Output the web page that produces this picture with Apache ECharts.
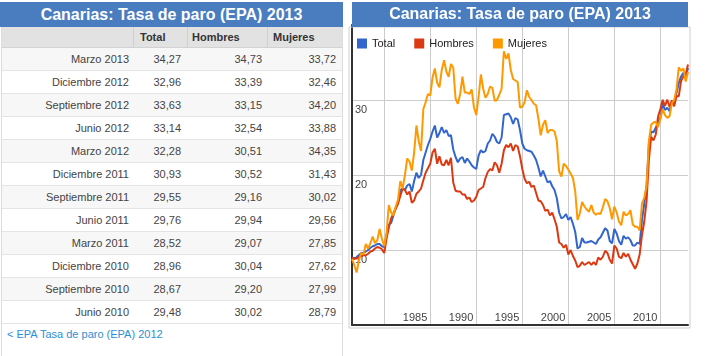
<!DOCTYPE html>
<html>
<head>
<meta charset="utf-8">
<script src="https://cdn.jsdelivr.net/npm/echarts@6.0.0/dist/echarts.min.js"></script>
<style>
html,body{margin:0;padding:0;background:#fff;}
body{width:709px;height:356px;overflow:hidden;position:relative;font-family:"Liberation Sans",Arial,Helvetica,sans-serif;}
#left{position:absolute;left:0;top:0;width:344px;height:356px;}
.ttl{position:absolute;left:0;top:2px;width:343px;height:25px;line-height:25px;background:#4a7dbf;color:#fff;font-weight:bold;font-size:16px;text-align:center;white-space:nowrap;}
.vb{position:absolute;top:27px;width:1px;height:329px;background:#dcdcdc;}
.hdr{position:absolute;left:1px;top:27px;width:341px;height:21px;background:#e2e2e2;border-bottom:1px solid #d2d2d2;box-sizing:border-box;}
.row{position:absolute;left:1px;width:341px;height:23px;box-sizing:border-box;border-bottom:1px solid #e4e4e4;}
.cell{position:absolute;top:0;height:100%;font-size:11px;color:#444;white-space:nowrap;box-sizing:border-box;display:flex;align-items:center;}
.hcell{position:absolute;top:0;height:100%;font-size:11px;font-weight:bold;color:#333;white-space:nowrap;box-sizing:border-box;display:flex;align-items:center;}
.sep{position:absolute;top:0;width:1px;height:100%;background:#cfcfcf;}
.link{position:absolute;left:7px;top:328px;font-size:11px;color:#2b8fd6;white-space:nowrap;}
#chart{position:absolute;left:345px;top:0;width:364px;height:356px;}
</style>
</head>
<body>
<div id="left"></div>
<div id="chart"></div>
<script>
// ---------- Data ----------
const titleText = "Canarias: Tasa de paro (EPA) 2013";
const seriesNames = ["Total", "Hombres", "Mujeres"];
const firstYear = 1976, firstQuarter = 3, lastYear = 2013, lastQuarter = 1;

// Table (most recent first)
const tableLabels = ["Marzo 2013","Diciembre 2012","Septiembre 2012","Junio 2012","Marzo 2012","Diciembre 2011","Septiembre 2011","Junio 2011","Marzo 2011","Diciembre 2010","Septiembre 2010","Junio 2010"];
const tableTotal   = [34.27,32.96,33.63,33.14,32.28,30.93,29.55,29.76,28.52,28.96,28.67,29.48];
const tableHombres = [34.73,33.39,33.15,32.54,30.51,30.52,29.16,29.94,29.07,30.04,29.20,30.02];
const tableMujeres = [33.72,32.46,34.20,33.88,34.35,31.43,30.02,29.56,27.85,27.62,27.99,28.79];

// Quarterly history 1976 T3 .. 2010 T1
const histTotal = [
 9.0, 8.9, 9.0, 9.3, 9.6, 9.6, 9.8,10.0,10.3,10.5,
10.6,10.8,10.8,10.5,10.4,12.0,13.4,13.6,14.6,15.6,
16.3,18.0,18.2,18.0,18.6,18.8,17.8,19.2,20.3,19.6,
20.0,22.0,23.0,24.0,24.8,25.8,26.6,25.0,25.6,26.4,
25.6,26.0,25.2,25.3,23.4,22.4,21.7,22.2,22.4,21.6,
22.2,21.8,21.3,21.0,20.8,22.6,23.3,23.0,23.2,24.2,
24.6,25.5,25.1,24.4,24.2,25.0,28.0,28.1,28.2,27.7,
26.8,27.6,27.4,26.0,24.2,23.5,23.3,23.2,23.1,22.6,
22.0,21.0,19.8,20.6,19.8,19.0,19.2,18.5,18.0,16.9,
15.0,14.2,14.4,14.8,14.0,14.4,13.5,12.4,10.2,10.4,
11.6,11.0,11.0,11.1,11.2,11.0,10.8,11.4,11.7,12.3,
12.9,12.6,11.2,10.9,12.8,12.2,11.2,10.7,11.9,11.5,
11.7,11.3,10.6,10.6,11.0,10.8,14.0,16.2,18.6,24.0,
25.8,25.7,26.3,27.1,27.6];
const histHombres = [
 9.0, 8.8, 8.9, 9.0, 9.2, 9.3, 9.3, 9.5, 9.8, 9.9,
10.2,10.4,10.3,10.1, 9.6,11.5,13.0,14.2,14.9,15.5,
16.2,17.2,18.2,18.0,17.4,17.8,16.3,16.6,17.5,17.8,
18.2,19.3,20.3,20.9,21.5,23.0,23.5,21.5,22.5,21.4,
21.3,22.0,21.3,22.3,19.0,17.9,17.8,17.8,17.4,17.4,
16.8,17.0,16.4,16.6,17.1,18.0,18.2,18.4,19.6,20.4,
20.8,20.6,21.7,21.3,20.3,21.5,23.3,24.0,23.7,24.2,
23.2,24.0,23.8,22.5,20.8,19.5,18.9,19.1,18.4,18.6,
17.6,16.6,16.5,16.0,15.2,15.4,14.6,15.0,14.1,13.1,
11.0,10.8,10.3,10.7, 9.4,10.0, 9.2, 8.6, 7.7, 7.9,
 8.4, 8.0, 8.2, 8.4, 8.0, 8.4, 8.0, 9.0, 8.7, 9.1,
 9.9, 9.6, 8.7, 8.2,10.6,10.2, 9.1, 8.9, 9.6, 9.1,
 9.5, 8.7, 8.1, 7.5, 8.2, 9.4,12.0,13.8,16.5,22.0,
25.1,24.6,25.4,27.8,28.8];
const histMujeres = [
 8.8, 8.0, 7.0, 8.6, 9.6, 9.4,10.8,10.2,10.9,11.8,
10.9,11.3,12.8,11.5,10.5,12.2,16.0,15.0,14.6,15.8,
16.7,19.2,18.2,20.0,22.2,21.8,20.6,23.0,26.6,24.5,
23.2,28.8,29.7,30.8,30.6,33.0,34.2,32.3,31.7,34.0,
35.3,33.8,33.1,34.8,34.3,30.2,29.5,30.8,33.1,31.0,
31.0,30.8,31.4,29.0,28.0,30.4,33.4,31.5,30.3,30.8,
31.8,31.6,29.9,30.0,30.7,31.5,36.5,35.5,36.2,34.0,
32.8,32.6,32.4,29.0,29.1,29.7,31.3,30.4,30.0,29.5,
29.3,27.5,25.3,26.7,27.3,25.6,26.0,26.0,25.8,24.5,
20.5,19.8,21.5,21.2,20.7,20.2,19.6,17.8,14.0,14.9,
16.4,15.8,15.4,15.1,16.0,15.0,14.7,14.9,14.8,15.7,
16.8,16.5,15.6,14.1,15.8,15.0,13.8,13.3,15.1,14.6,
14.8,15.3,13.4,13.1,13.1,12.6,16.2,17.0,18.5,24.5,
26.7,27.0,27.1,26.4,27.5];

const yTicks = [10, 20, 30];
const xTickYears = [1985, 1990, 1995, 2000, 2005, 2010];
const gridYears = [1980, 1985, 1990, 1995, 2000, 2005, 2010];

// ---------- Derived ----------
const quarters = [];
for (let y = firstYear, q = firstQuarter; y < lastYear || (y === lastYear && q <= lastQuarter); ) {
  quarters.push(y + "T" + q);
  q++; if (q > 4) { q = 1; y++; }
}
const total = histTotal.concat(tableTotal.slice().reverse());
const hombres = histHombres.concat(tableHombres.slice().reverse());
const mujeres = histMujeres.concat(tableMujeres.slice().reverse());

// ---------- Table ----------
const fmt = v => v.toFixed(2).replace('.', ',');
const left = document.getElementById('left');
let html = '<div class="ttl">' + titleText + '</div>';
html += '<div class="hdr">' +
  '<div class="sep" style="left:132px"></div><div class="sep" style="left:186px"></div><div class="sep" style="left:266px"></div>' +
  '<div class="hcell" style="left:139px">' + seriesNames[0] + '</div>' +
  '<div class="hcell" style="left:191px">' + seriesNames[1] + '</div>' +
  '<div class="hcell" style="left:272px">' + seriesNames[2] + '</div></div>';
tableLabels.forEach((lab, k) => {
  const bg = (k % 2 === 0) ? '#f7f7f7' : '#ffffff';
  html += '<div class="row" style="top:' + (48 + k * 23) + 'px;background:' + bg + '">' +
    '<div class="cell" style="left:0;width:132px;justify-content:flex-end;padding-right:4px">' + lab + '</div>' +
    '<div class="cell" style="left:132px;width:54px;justify-content:flex-end;padding-right:6px">' + fmt(tableTotal[k]) + '</div>' +
    '<div class="cell" style="left:186px;width:80px;justify-content:flex-end;padding-right:5px">' + fmt(tableHombres[k]) + '</div>' +
    '<div class="cell" style="left:266px;width:75px;justify-content:flex-end;padding-right:6px">' + fmt(tableMujeres[k]) + '</div>' +
    '</div>';
});
html += '<div class="vb" style="left:1px"></div><div class="vb" style="left:342px"></div>';
html += '<div class="link">&lt; EPA Tasa de paro (EPA) 2012</div>';
left.innerHTML = html;

// ---------- Chart ----------
const chart = echarts.init(document.getElementById('chart'), null, {renderer: 'canvas'});
const yearOf = v => +String(v).slice(0, 4);
const isQ1 = v => String(v).slice(4) === 'T1';
chart.setOption({
  animation: false,
  color: ['#3366cc', '#dc3912', '#ff9900'],
  textStyle: {fontFamily: '"Liberation Sans", Arial, sans-serif'},
  grid: {left: 7, right: 21, top: 25, bottom: 31, containLabel: false},
  legend: {
    data: seriesNames, left: 7, top: 33, icon: 'rect', itemWidth: 10, itemHeight: 10, itemGap: 19,
    textStyle: {fontSize: 11, color: '#222', fontFamily: '"Liberation Sans", Arial, sans-serif'}
  },
  xAxis: {
    type: 'category', data: quarters, boundaryGap: false,
    axisLine: {show: true, lineStyle: {color: '#333', width: 2}},
    axisTick: {show: false},
    splitLine: {show: true, interval: (i, v) => isQ1(v) && gridYears.includes(yearOf(v)), lineStyle: {color: '#cccccc', width: 1}},
    axisLabel: {
      inside: true, margin: 2, align: 'right', padding: [0, 3, 0, 0],
      interval: (i, v) => isQ1(v) && xTickYears.includes(yearOf(v)),
      formatter: v => String(yearOf(v)), fontSize: 11, color: '#444'
    }
  },
  yAxis: {
    type: 'value', min: 0, max: 40, interval: 10,
    axisLine: {show: true, lineStyle: {color: '#333', width: 2}},
    axisTick: {show: false},
    splitLine: {show: true, lineStyle: {color: '#cccccc', width: 1}},
    axisLabel: {
      inside: true, margin: 3, verticalAlign: 'top', padding: [4, 0, 0, 0],
      formatter: v => yTicks.includes(v) ? String(v) : '', fontSize: 11, color: '#444'
    }
  },
  graphic: [
    {type: 'rect', z: 90, shape: {x: 4, y: 27, width: 341, height: 301}, style: {fill: 'none', stroke: '#cfcfcf', lineWidth: 1}, silent: true},
    {type: 'rect', z: 100, shape: {x: 7, y: 2, width: 336, height: 25}, style: {fill: '#4a7dbf'}, silent: true},
    {type: 'text', z: 101, x: 175, y: 15, style: {text: titleText, fill: '#fff', font: 'bold 16px "Liberation Sans", Arial, sans-serif', textAlign: 'center', textVerticalAlign: 'middle'}, silent: true}
  ],
  series: [
    {name: seriesNames[0], type: 'line', data: total, symbol: 'none', lineStyle: {width: 2}},
    {name: seriesNames[1], type: 'line', data: hombres, symbol: 'none', lineStyle: {width: 2}},
    {name: seriesNames[2], type: 'line', data: mujeres, symbol: 'none', lineStyle: {width: 2}}
  ]
});
</script>
</body>
</html>
